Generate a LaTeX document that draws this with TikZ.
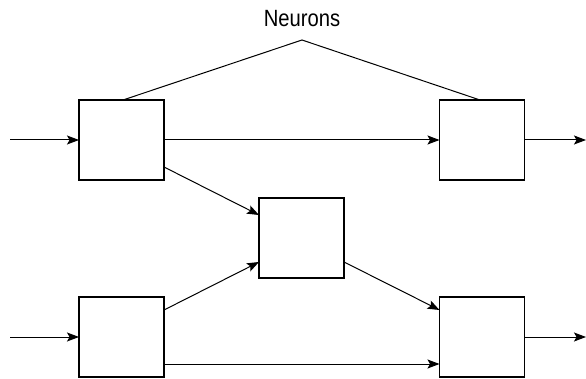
\documentclass[tikz,border=0pt]{standalone}
\usepackage{fontspec}
\setmainfont{Liberation Sans}
\usetikzlibrary{arrows.meta}
\begin{document}
\begin{tikzpicture}[x=1pt,y=-1pt,
  neuron/.style={draw=black,line width=1.6pt,minimum width=85pt,minimum height=80pt,inner sep=0pt,outer sep=0pt},
  conn/.style={line width=1pt,-{Stealth[length=12pt,width=9pt,inset=2.5pt]}},
  brace/.style={line width=1pt},
  label/.style={font=\fontsize{23.5}{26}\selectfont,inner sep=0pt,xscale=0.86}]
\useasboundingbox (0,0) rectangle (586,379);
\node[neuron] (tl) at (121.5,140) {};
\node[neuron] (tr) at (482,140) {};
\node[neuron] (m) at (301.5,238) {};
\node[neuron] (bl) at (121.5,337) {};
\node[neuron] (br) at (482,337) {};
\node[label] (lab) at (302,19) {Neurons};
\coordinate (apex) at (302,40);
\coordinate (in1) at (10,140);
\coordinate (out1) at (586,140);
\coordinate (in2) at (10,337);
\coordinate (out2) at (586,337);
\draw[brace] ([xshift=1.5pt]tl.north) -- (apex) -- ([xshift=-2pt]tr.north);
\draw[conn] (in1) -- (tl.west);
\draw[conn] (tl.east) -- (tr.west);
\draw[conn] (tr.east) -- (out1);
\draw[conn] (in2) -- (bl.west);
\draw[conn] (br.east) -- (out2);
\draw[conn] ([yshift=-27pt]tl.east) -- ([yshift=23pt]m.west);
\draw[conn] ([yshift=27pt]bl.east) -- ([yshift=-24pt]m.west);
\draw[conn] ([yshift=-24pt]m.east) -- ([yshift=27pt]br.west);
\draw[conn] ([yshift=-27pt]bl.east) -- ([yshift=-27pt]br.west);
\end{tikzpicture}
\end{document}
